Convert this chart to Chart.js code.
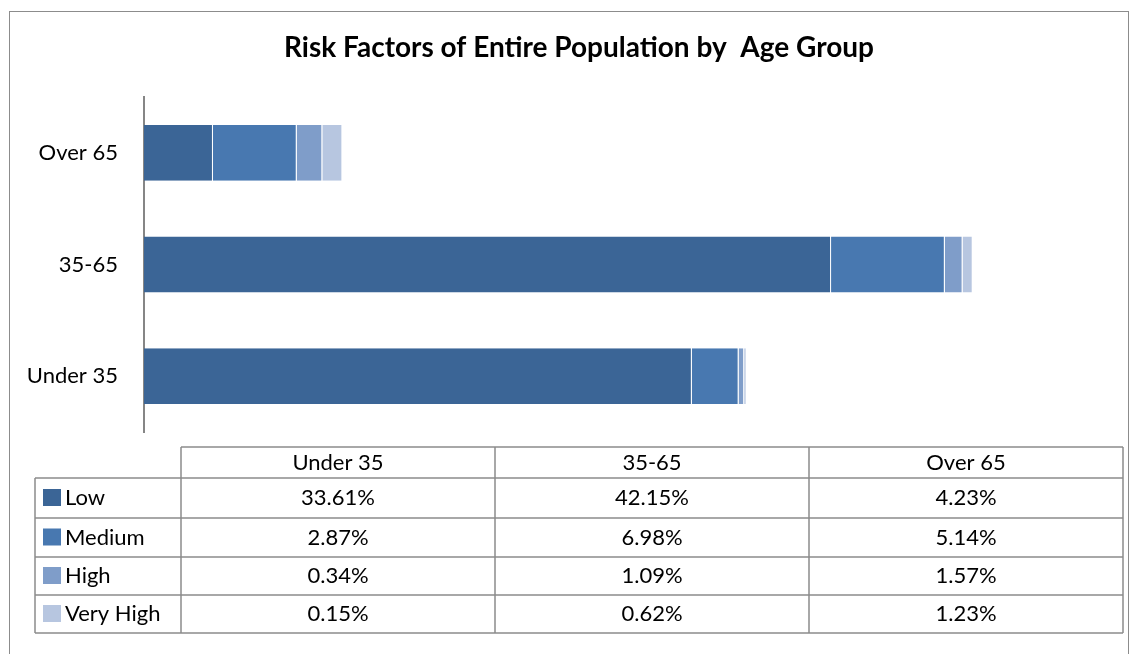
<!DOCTYPE html>
<html>
<head>
<meta charset="utf-8">
<script src="https://cdn.jsdelivr.net/npm/chart.js@4"></script>
<style>
  html, body { margin: 0; padding: 0; background: #fff; }
  #wrap { width: 1138px; height: 654px; position: relative; }
</style>
</head>
<body>
<div id="wrap"><canvas id="riskChart" width="1138" height="654"></canvas></div>
<script>
const categories = ['Under 35', '35-65', 'Over 65'];
const seriesNames = ['Low', 'Medium', 'High', 'Very High'];
const low = [33.61, 42.15, 4.23];
const medium = [2.87, 6.98, 5.14];
const high = [0.34, 1.09, 1.57];
const veryHigh = [0.15, 0.62, 1.23];
const colors = ['#3b6596', '#4878b0', '#7f9dc9', '#b7c6e0'];
const titleText = 'Risk Factors of Entire Population by  Age Group';
const FONT = 'Lato, "Open Sans", sans-serif';

const seriesValues = [low, medium, high, veryHigh];

// draws the frame, title and the data table under the plot
const tablePlugin = {
    id: 'dataTable',
    afterDraw(chart) {
        const ctx = chart.ctx;
        ctx.save();
        // outer frame
        ctx.strokeStyle = '#8c8c8c';
        ctx.lineWidth = 1;
        ctx.strokeRect(9.5, 11.5, 1119, 660);

        // title
        ctx.fillStyle = '#000';
        ctx.font = 'bold 28px ' + FONT;
        ctx.textAlign = 'center';
        ctx.textBaseline = 'middle';
        ctx.fillText(titleText, 579, 48);

        // table geometry
        const colX = [35, 181, 495, 809, 1123];
        const rowY = [447, 478, 518, 557, 595, 633];
        ctx.strokeStyle = '#8c8c8c';
        ctx.lineWidth = 1.5;
        ctx.beginPath();
        ctx.moveTo(colX[1], rowY[0]); ctx.lineTo(colX[4], rowY[0]);
        for (let r = 1; r < rowY.length; r++) {
            ctx.moveTo(colX[0], rowY[r]); ctx.lineTo(colX[4], rowY[r]);
        }
        ctx.moveTo(colX[0], rowY[1]); ctx.lineTo(colX[0], rowY[5]);
        for (let c = 1; c < colX.length; c++) {
            ctx.moveTo(colX[c], rowY[0]); ctx.lineTo(colX[c], rowY[5]);
        }
        ctx.stroke();

        ctx.font = '22px ' + FONT;
        ctx.fillStyle = '#000';
        ctx.textAlign = 'center';
        categories.forEach((cat, c) => {
            const cx = (colX[c + 1] + colX[c + 2]) / 2;
            ctx.fillText(cat, cx, (rowY[0] + rowY[1]) / 2);
            seriesValues.forEach((vals, r) => {
                ctx.fillText(vals[c].toFixed(2) + '%', cx, (rowY[r + 1] + rowY[r + 2]) / 2);
            });
        });
        seriesNames.forEach((name, r) => {
            const cy = (rowY[r + 1] + rowY[r + 2]) / 2;
            ctx.fillStyle = colors[r];
            ctx.fillRect(43, cy - 9, 18, 17);
            ctx.fillStyle = '#000';
            ctx.textAlign = 'left';
            ctx.fillText(name, 65, cy);
        });
        ctx.restore();
    }
};

new Chart(document.getElementById('riskChart'), {
    type: 'bar',
    data: {
        labels: categories,
        datasets: seriesNames.map((name, i) => ({
            label: name,
            data: seriesValues[i],
            backgroundColor: colors[i],
            borderColor: 'rgba(255,255,255,0.2)',
            borderWidth: { right: 1 },
            borderSkipped: false,
            categoryPercentage: 1,
            barPercentage: 0.5
        }))
    },
    options: {
        indexAxis: 'y',
        responsive: false,
        animation: false,
        layout: { padding: { left: 0, top: 97, right: 16, bottom: 222 } },
        scales: {
            x: {
                stacked: true,
                display: false,
                min: 0,
                max: 60
            },
            y: {
                stacked: true,
                reverse: true,
                grid: { display: false },
                border: { color: '#868686', width: 2 },
                ticks: {
                    color: '#000',
                    font: { family: FONT, size: 22 },
                    padding: 18
                },
                afterFit(scale) { scale.width = 144; }
            }
        },
        plugins: {
            legend: { display: false },
            title: { display: false },
            tooltip: { enabled: false }
        }
    },
    plugins: [tablePlugin]
});
</script>
</body>
</html>
